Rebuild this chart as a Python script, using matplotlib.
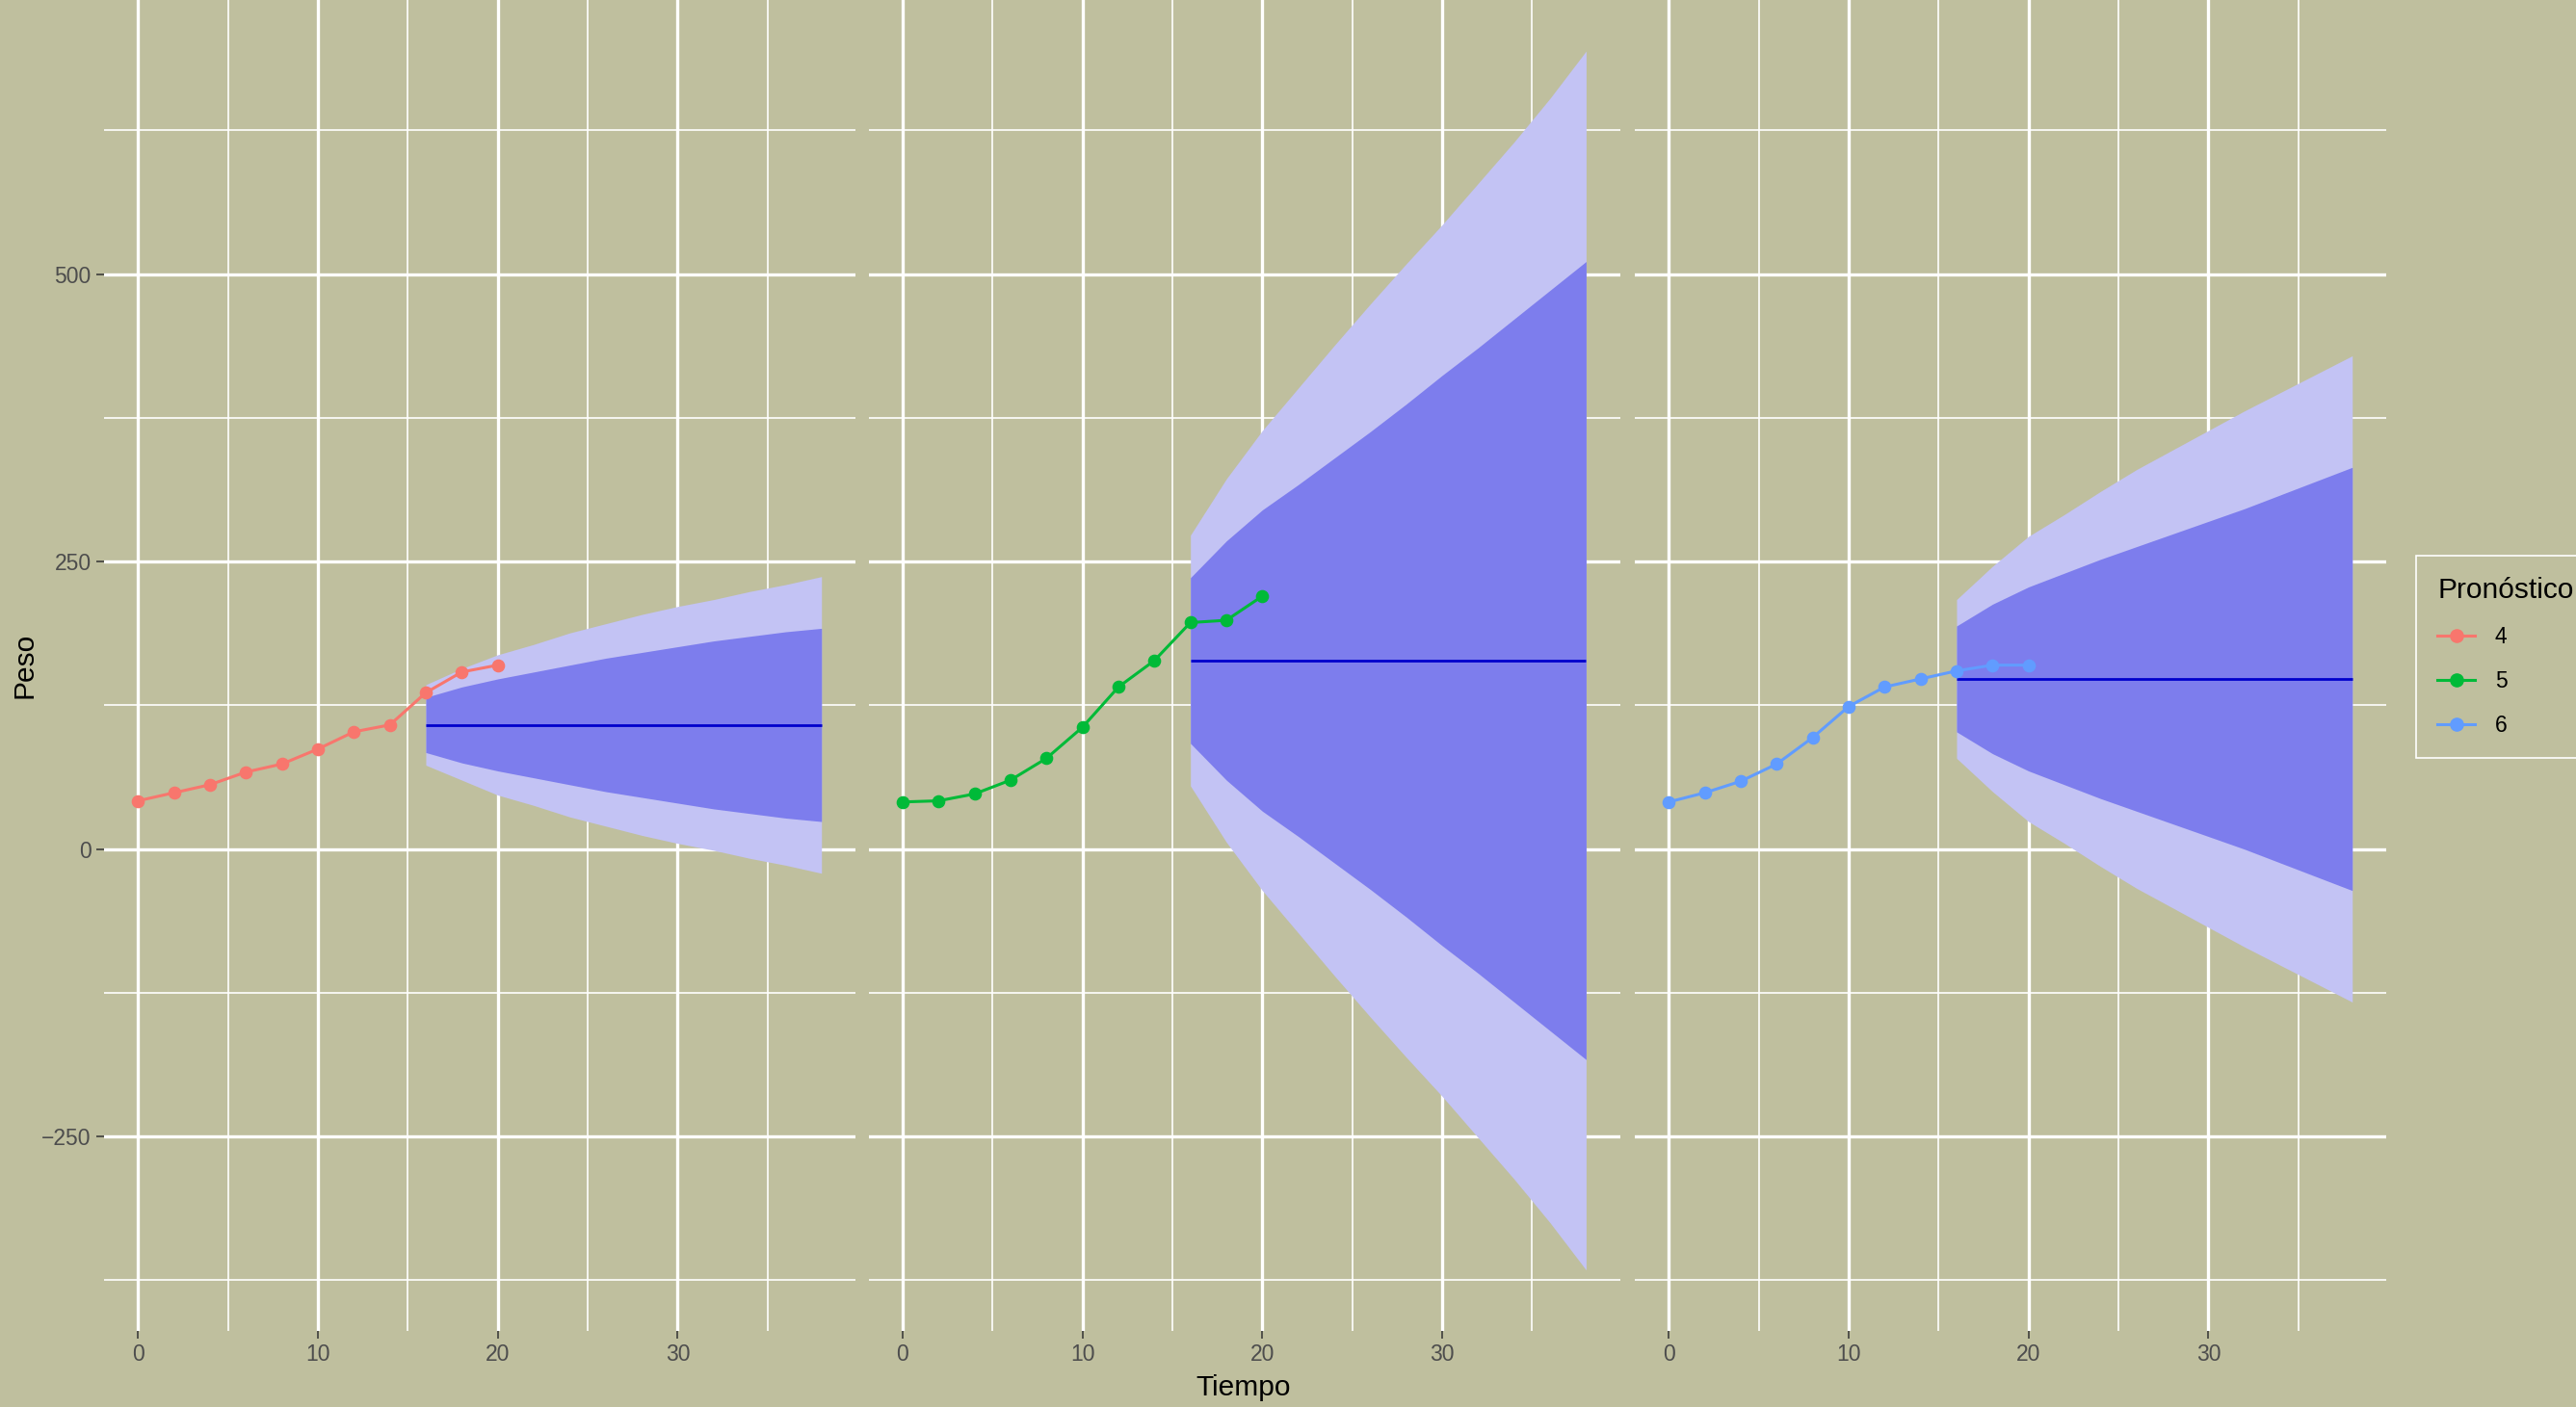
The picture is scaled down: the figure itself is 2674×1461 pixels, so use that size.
import numpy as np
import matplotlib
matplotlib.use("Agg")
import matplotlib.pyplot as plt
from matplotlib.lines import Line2D

plt.rcParams['font.family'] = ['Liberation Sans', 'DejaVu Sans']

# observed weights, times 0..20
tiempo = [0, 2, 4, 6, 8, 10, 12, 14, 16, 18, 20]
peso_4 = [42, 49, 56, 67, 74, 87, 102, 108, 136, 154, 160]
peso_5 = [41, 42, 48, 60, 79, 106, 141, 164, 197, 199, 220]
peso_6 = [41, 49, 59, 74, 97, 124, 141, 148, 155, 160, 160]

# forecast horizon and point forecasts (flat)
t_pron = [16, 18, 20, 22, 24, 26, 28, 30, 32, 34, 36, 38]
media = [108, 164, 148]

# prediction intervals
sup80_4 = [132, 141, 148, 154, 160, 166, 171, 176, 181, 185, 189, 192]
inf80_4 = [84, 75, 68, 62, 56, 50, 45, 40, 35, 31, 27, 24]
sup95_4 = [143, 157, 169, 178, 188, 196, 204, 211, 217, 224, 230, 237]
inf95_4 = [73, 60, 47, 38, 28, 20, 12, 5, -1, -8, -14, -21]

sup80_5 = [236, 268, 295, 317, 340, 363, 387, 412, 436, 461, 486, 511]
inf80_5 = [92, 60, 33, 11, -12, -35, -59, -84, -108, -133, -158, -183]
sup95_5 = [273, 322, 364, 401, 438, 474, 509, 543, 579, 615, 653, 694]
inf95_5 = [55, 6, -36, -73, -110, -146, -181, -215, -251, -287, -325, -366]

sup80_6 = [194, 213, 228, 240, 252, 263, 274, 285, 296, 308, 320, 332]
inf80_6 = [102, 83, 68, 56, 44, 33, 22, 11, 0, -12, -24, -36]
sup95_6 = [217, 246, 272, 291, 311, 330, 347, 364, 381, 397, 413, 429]
inf95_6 = [79, 50, 24, 5, -15, -34, -51, -68, -85, -101, -117, -133]

chicks = ["4", "5", "6"]
colores = ["#F8766D", "#00BA38", "#619CFF"]

bg = "#BFBF9E"
W, H = 2674, 1461
fig = plt.figure(figsize=(W / 100, H / 100), dpi=100, facecolor=bg)

lefts = [107.8, 901.5, 1696.8]
pw = 780.4
ptop, pbot = 0, 1382

series = [
    (peso_4, sup80_4, inf80_4, sup95_4, inf95_4),
    (peso_5, sup80_5, inf80_5, sup95_5, inf95_5),
    (peso_6, sup80_6, inf80_6, sup95_6, inf95_6),
]

for i, (peso, s80, i80, s95, i95) in enumerate(series):
    ax = fig.add_axes([lefts[i] / W, 1 - pbot / H, pw / W, (pbot - ptop) / H])
    ax.set_facecolor(bg)
    ax.set_axisbelow(True)
    for sp in ax.spines.values():
        sp.set_visible(False)

    ax.fill_between(t_pron, i95, s95, color="#C3C3F4", lw=0, zorder=1)
    ax.fill_between(t_pron, i80, s80, color="#7D7DED", lw=0, zorder=2)
    ax.hlines(media[i], t_pron[0], t_pron[-1], color="#0000CC", lw=2.0, zorder=3)
    ax.plot(tiempo, peso, color=colores[i], lw=2.2, marker="o", ms=8.8, zorder=4)

    ax.set_xlim(-1.9, 39.9)
    ax.set_ylim(-419, 738.4)
    ax.set_xticks([0, 10, 20, 30])
    ax.set_xticks([5, 15, 25, 35], minor=True)
    ax.set_yticks([-250, 0, 250, 500])
    ax.set_yticks([-375, -125, 125, 375, 625], minor=True)
    ax.grid(which="major", color="white", lw=2.4)
    ax.grid(which="minor", color="white", lw=1.2)
    ax.tick_params(which="minor", length=0)
    ax.tick_params(which="major", length=5.5, width=1.1, color="#333333",
                   labelsize=16.5, labelcolor="#4D4D4D", pad=4)
    if i > 0:
        ax.tick_params(axis="y", which="major", length=0, labelleft=False)

fig.text(1291 / W, 1 - 1441 / H, "Tiempo", ha="center", va="center", fontsize=21.5)
fig.text(26 / W, 1 - 691 / H, "Peso", ha="center", va="center", rotation=90, fontsize=21.5)

handles = [Line2D([], [], color=c, lw=2.2, marker="o", ms=9.5) for c in colores]
leg = fig.legend(handles, chicks, title="Pronóstico", loc="upper left",
                 bbox_to_anchor=(2497 / W, 1 - 566 / H), frameon=True,
                 facecolor=bg, edgecolor="white", fancybox=False, framealpha=1,
                 fontsize=16.5, title_fontsize=21.5, handlelength=1.7,
                 handletextpad=0.9, labelspacing=1.0, borderpad=0.95,
                 alignment="left")
leg.get_frame().set_linewidth(1.2)

plt.savefig("out.png", dpi=100, facecolor=bg)
